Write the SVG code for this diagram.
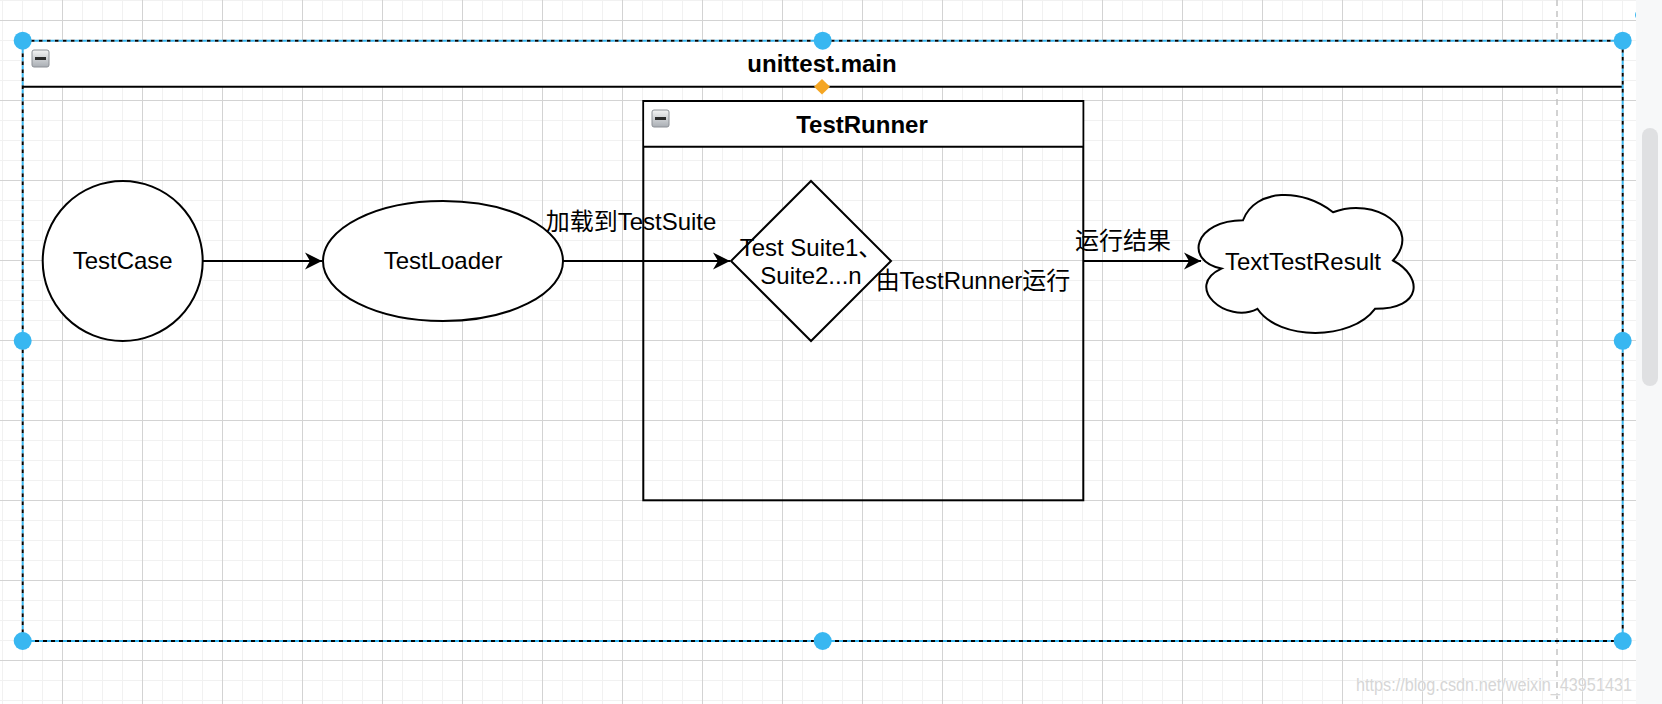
<svg xmlns="http://www.w3.org/2000/svg" width="1662" height="704" viewBox="0 0 1662 704">
  <defs>
    <pattern id="grid" patternUnits="userSpaceOnUse" x="62" y="20" width="80" height="80">
      <rect x="0" y="0" width="80" height="80" fill="#ffffff"/>
      <rect x="20" y="0" width="1" height="80" fill="#f1f1f1"/>
      <rect x="40" y="0" width="1" height="80" fill="#f1f1f1"/>
      <rect x="60" y="0" width="1" height="80" fill="#f1f1f1"/>
      <rect x="0" y="20" width="80" height="1" fill="#f1f1f1"/>
      <rect x="0" y="40" width="80" height="1" fill="#f1f1f1"/>
      <rect x="0" y="60" width="80" height="1" fill="#f1f1f1"/>
      <rect x="0" y="0" width="1" height="80" fill="#d3d3d3"/>
      <rect x="0" y="0" width="80" height="1" fill="#d3d3d3"/>
    </pattern>
    <linearGradient id="btn" x1="0" y1="0" x2="0" y2="1">
      <stop offset="0" stop-color="#f4f4f4"/>
      <stop offset="1" stop-color="#a9aeb4"/>
    </linearGradient>
    <marker id="arrow" viewBox="-18 -9 20 18" refX="0" refY="0" markerWidth="20" markerHeight="18" markerUnits="userSpaceOnUse" orient="auto">
      <path d="M0,0 L-17,-8.5 L-12,0 L-17,8.5 Z" fill="#000"/>
    </marker>
    <style>
      .shape { fill: #ffffff; stroke: #000; stroke-width: 2; }
      .edge { fill: none; stroke: #000; stroke-width: 2; }
      .lbl { font-family: "Liberation Sans", "Noto Sans CJK SC", sans-serif; font-size: 24px; fill: #000; text-anchor: middle; }
      .title { font-family: "Liberation Sans", "Noto Sans CJK SC", sans-serif; font-size: 24px; font-weight: bold; fill: #000; text-anchor: middle; }
      .handle { fill: #38b7f1; }
      .ico { fill: url(#btn); stroke: #8c9096; stroke-width: 1; }
    </style>
  </defs>

  <!-- canvas -->
  <rect x="0" y="0" width="1662" height="704" fill="#ffffff"/>
  <rect x="0" y="0" width="1636" height="704" fill="url(#grid)"/>
  <line x1="1557" y1="0" x2="1557" y2="704" stroke="#c4c4c4" stroke-width="1.5" stroke-dasharray="6 5"/>

  <!-- outer container unittest.main -->
  <g id="unittest-main">
    <rect x="22.7" y="40.7" width="1600" height="46" fill="#ffffff"/>
    <line x1="22.7" y1="86.7" x2="1622.7" y2="86.7" stroke="#000" stroke-width="2"/>
    <rect x="32" y="50" width="17" height="17" rx="2" class="ico"/>
    <rect x="35" y="57" width="11" height="3" fill="#2b2b2b"/>
    <text x="822" y="72" class="title">unittest.main</text>
  </g>

  <!-- TestRunner container -->
  <g id="testrunner">
    <rect x="643.3" y="101" width="440" height="399.3" fill="none" stroke="#000" stroke-width="2"/>
    <rect x="644.3" y="102" width="438" height="44.7" fill="#ffffff"/>
    <line x1="643.3" y1="146.7" x2="1083.3" y2="146.7" stroke="#000" stroke-width="2"/>
    <rect x="652" y="110" width="17" height="17" rx="2" class="ico"/>
    <rect x="655" y="117" width="11" height="3" fill="#2b2b2b"/>
    <text x="862" y="133" class="title">TestRunner</text>
  </g>

  <g id="testcase">
    <circle cx="122.7" cy="261" r="80" class="shape"/>
    <text x="122.7" y="269" class="lbl">TestCase</text>
  </g>

  <g id="testloader">
    <ellipse cx="443" cy="261" rx="120" ry="60" class="shape"/>
    <text x="443" y="269" class="lbl">TestLoader</text>
  </g>

  <g id="testsuite">
    <path d="M811,181 L891,261 L811,341 L731,261 Z" class="shape"/>
    <text x="811" y="256" class="lbl">Test Suite1、</text>
    <text x="811" y="284" class="lbl">Suite2...n</text>
  </g>

  <g id="run-label">
    <text x="973" y="289" class="lbl">由TestRunner运行</text>
  </g>

  <g id="texttestresult">
    <path class="shape" d="M1243,220.25 C1195,220.25 1183,260.5 1221.4,268.55 C1183,286.26 1226.2,324.9 1257.4,308.8 C1279,341 1351,341 1375,308.8 C1423,308.8 1423,276.6 1393,260.5 C1423,228.3 1375,196.1 1333,212.2 C1303,188.05 1255,188.05 1243,220.25 Z"/>
    <text x="1303" y="270" class="lbl">TextTestResult</text>
  </g>

  <!-- connectors -->
  <g id="connectors">
    <line x1="202.7" y1="261" x2="322" y2="261" class="edge" marker-end="url(#arrow)"/>
    <line x1="563" y1="261" x2="730" y2="261" class="edge" marker-end="url(#arrow)"/>
    <text x="631" y="230" class="lbl">加载到TestSuite</text>
    <line x1="1083.3" y1="261" x2="1201" y2="261" class="edge" marker-end="url(#arrow)"/>
    <text x="1123" y="249" class="lbl">运行结果</text>
  </g>

  <!-- selection overlay of outer container -->
  <g id="selection">
    <rect x="22.7" y="40.7" width="1600" height="600.3" fill="none" stroke="#000" stroke-width="2" stroke-dasharray="4 4"/>
    <rect x="22.7" y="40.7" width="1600" height="600.3" fill="none" stroke="#38b7f1" stroke-width="2" stroke-dasharray="4 4" stroke-dashoffset="4"/>
    <path d="M822,79 L830,86.7 L822,94.4 L814,86.7 Z" fill="#f5a623"/>
    <circle cx="22.7" cy="40.7" r="9" class="handle"/>
    <circle cx="822.7" cy="40.7" r="9" class="handle"/>
    <circle cx="1622.7" cy="40.7" r="9" class="handle"/>
    <circle cx="22.7" cy="340.8" r="9" class="handle"/>
    <circle cx="1622.7" cy="340.8" r="9" class="handle"/>
    <circle cx="22.7" cy="641" r="9" class="handle"/>
    <circle cx="822.7" cy="641" r="9" class="handle"/>
    <circle cx="1622.7" cy="641" r="9" class="handle"/>
    <circle cx="1641" cy="15" r="6" class="handle"/>
  </g>

  <!-- scrollbar -->
  <rect x="1636" y="0" width="26" height="704" fill="#f7f8f9"/>
  <rect x="1642" y="128" width="16" height="258" rx="8" fill="#dfe0e2"/>

  <!-- watermark -->
  <text x="1356" y="691" textLength="276" lengthAdjust="spacingAndGlyphs" font-family="'Liberation Sans', sans-serif" font-size="18" fill="#d6d6d6" stroke="#ffffff" stroke-width="0.6" paint-order="stroke">https://blog.csdn.net/weixin_43951431</text>
</svg>
